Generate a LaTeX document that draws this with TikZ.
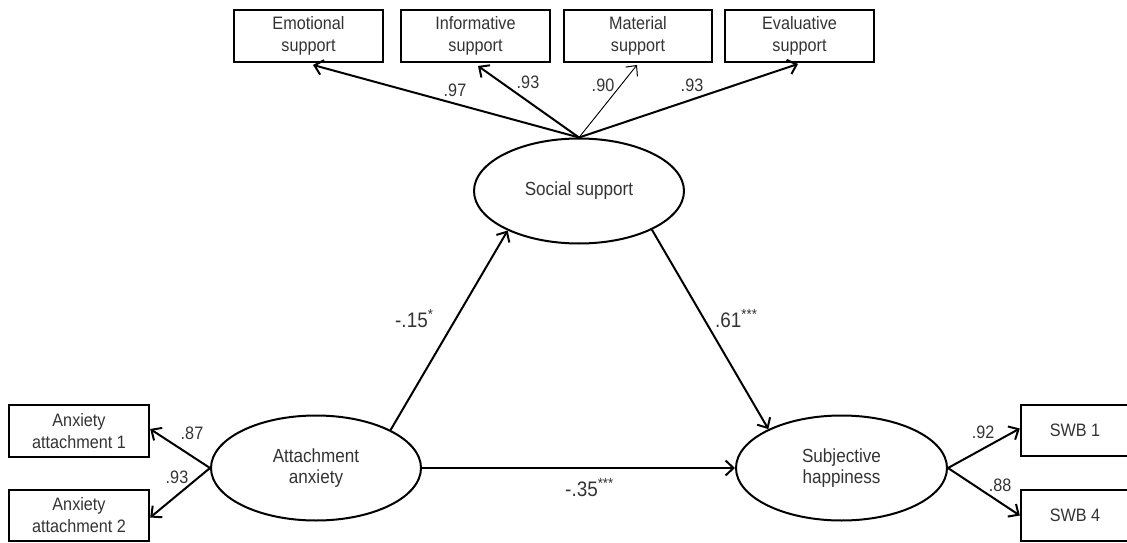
\documentclass[tikz,border=0pt]{standalone}
\usepackage{fontspec}
\setmainfont[FakeStretch=0.9]{Liberation Sans}
\usetikzlibrary{arrows.meta,shapes.geometric}
\begin{document}
\begin{tikzpicture}[x=1pt,y=-1pt,
  box/.style={draw,line width=2.4pt,rectangle,minimum width=148.5pt,minimum height=51.5pt,align=center,text=black!80,font=\fontsize{18}{22}\selectfont,inner sep=0pt},
  lat/.style={draw,ellipse,line width=2pt,minimum width=210pt,minimum height=105pt,align=center,text=black!80,font=\fontsize{19}{21}\selectfont,inner sep=0pt},
  arr/.style={line width=2pt,-{Straight Barb[length=8pt,width=15pt,line width=2pt]}},
  thinarr/.style={line width=0.9pt,-{Straight Barb[length=8pt,width=15pt,line width=1pt]}},
  coef/.style={text=black!80,font=\fontsize{18}{18}\selectfont,inner sep=0pt},
  pcoef/.style={text=black!80,font=\fontsize{21}{21}\selectfont,inner sep=0pt,anchor=base west}]
\clip (0,0) rectangle (1127,543);
% indicators of social support
\node[box] (emo) at (308.5,36) {Emotional\\support};
\node[box] (inf) at (475.5,36) {Informative\\support};
\node[box] (mat) at (638,36) {Material\\support};
\node[box] (eva) at (799.5,36) {Evaluative\\support};
% latent variables
\node[lat] (ss) at (579,191) {Social support};
\node[lat] (aa) at (316,468) {Attachment\\anxiety};
\node[lat,minimum width=211pt] (sh) at (841.5,468) {Subjective\\happiness};
% other indicators
\node[box,minimum width=140pt] (ax1) at (79,431) {Anxiety\\attachment 1};
\node[box,minimum width=140pt] (ax2) at (79,515.5) {Anxiety\\attachment 2};
\node[box,minimum width=108pt] (sw1) at (1075,430.5) {SWB 1};
\node[box,minimum width=108pt] (sw4) at (1075,515.5) {SWB 4};
% loadings
\draw[arr] (ss.north) -- ([xshift=4.5pt,yshift=-2pt]emo.south);
\draw[arr] (ss.north) -- ([xshift=2.5pt,yshift=-3pt]inf.south);
\draw[thinarr] (ss.north) -- ([xshift=-1pt,yshift=-2pt]mat.south);
\draw[arr] (ss.north) -- ([xshift=-1.5pt,yshift=-1pt]eva.south);
\draw[arr] (aa.west) -- ([yshift=2pt]ax1.east);
\draw[arr] (aa.west) -- ([yshift=-2pt]ax2.east);
\draw[arr] (sh.east) -- ([yshift=2pt]sw1.west);
\draw[arr] (sh.east) -- (sw4.west);
% structural paths
\draw[arr] (aa.27) -- (ss.209);
\draw[arr] (ss.332) -- (sh.152);
\draw[arr] (aa.east) -- (sh.west);
% loading labels
\node[coef] (l1) at (455,90) {.97};
\node[coef] (l2) at (528,82) {.93};
\node[coef] (l3) at (603,85) {.90};
\node[coef] (l4) at (692,85) {.93};
\node[coef] (l5) at (192,433) {.87};
\node[coef] (l6) at (177,477) {.93};
\node[coef] (l7) at (983,432) {.92};
\node[coef] (l8) at (1000,485) {.88};
% path labels
\node[pcoef] (p1) at (395,327.5) {-.15\textsuperscript{*}};
\node[pcoef] (p2) at (715,327.5) {.61\textsuperscript{***}};
\node[pcoef] (p3) at (565,496.5) {-.35\textsuperscript{***}};
\end{tikzpicture}
\end{document}
